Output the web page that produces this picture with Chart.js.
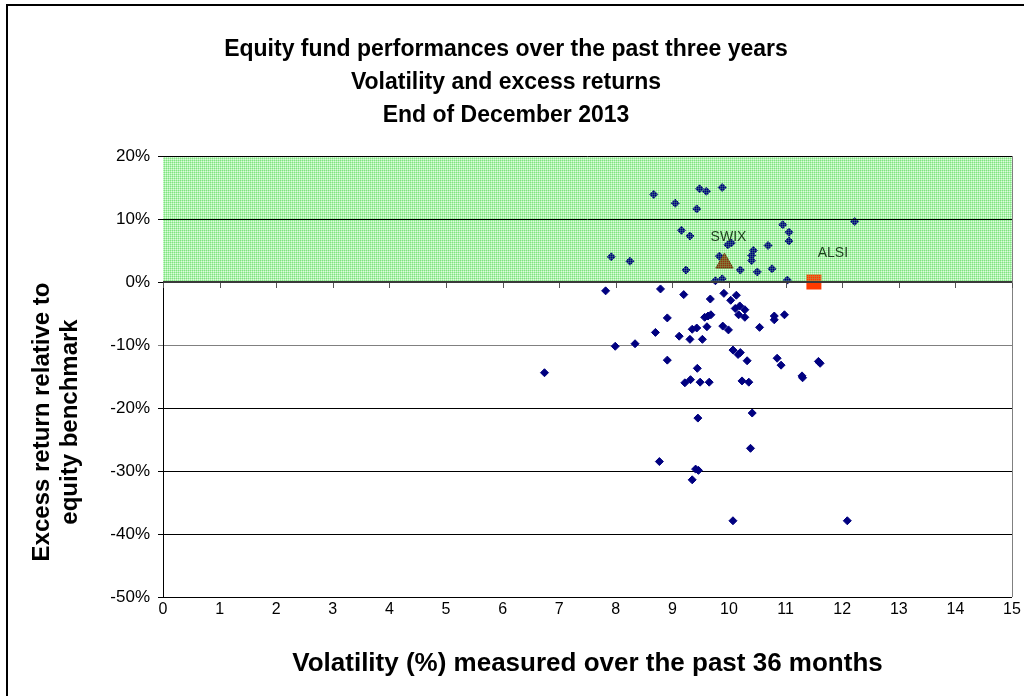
<!DOCTYPE html>
<html><head><meta charset="utf-8">
<script src="https://cdn.jsdelivr.net/npm/chart.js@4.4.1/dist/chart.umd.min.js"></script>
<style>html,body{margin:0;padding:0;background:#fff;overflow:hidden}canvas{display:block}</style>
</head><body>
<canvas id="c" width="1024" height="696"></canvas>
<script>
// ---------------- data ----------------
const titleLines = ['Equity fund performances over the past three years', 'Volatility and excess returns', 'End of December 2013'];
const xAxisTitle = 'Volatility (%) measured over the past 36 months';
const yAxisTitleLines = ['Excess return relative to', 'equity benchmark'];
const xTickLabels = ['0','1','2','3','4','5','6','7','8','9','10','11','12','13','14','15'];
const yTickLabels = ['-50%','-40%','-30%','-20%','-10%','0%','10%','20%'];
const yTickValues = [-50,-40,-30,-20,-10,0,10,20];

const fundVolatility = [
  8.67, 9.48, 9.60, 9.88, 9.05, 9.43, 9.16, 9.31, 10.95, 11.06, 11.06, 12.22, 7.92, 8.25, 9.24,
  9.98, 10.04, 9.83, 10.43, 10.40, 10.40, 10.69, 10.20, 10.50, 10.76, 9.76, 9.88, 11.03,
  7.82, 8.79, 9.20, 9.67, 9.91, 10.13, 10.03, 10.11, 10.19, 10.28, 10.17, 10.28, 10.80, 10.80, 10.98,
  8.91, 9.57, 9.63, 9.68, 8.70, 9.12, 9.35, 9.43, 9.61, 9.89, 9.99, 10.54, 9.31, 9.53,
  7.99, 8.34, 10.07, 10.16, 10.20, 10.32, 10.85, 10.92, 11.58, 11.61, 8.91, 9.44,
  9.32, 9.22, 9.49, 9.65, 10.23, 10.35, 11.29, 11.30, 6.74,
  9.45, 10.41, 10.38, 8.77, 9.41, 9.46, 9.35, 10.07, 12.09
];
const fundExcess = [
  13.9, 14.8, 14.4, 15.0, 12.5, 11.6, 8.2, 7.3, 9.1, 7.9, 6.5, 9.6, 4.0, 3.3, 1.9,
  5.9, 6.2, 4.1, 5.0, 4.2, 3.4, 5.8, 1.9, 1.6, 2.1, 0.2, 0.5, 0.3,
  -1.4, -1.1, -2.0, -2.7, -1.8, -2.1, -2.9, -4.2, -3.8, -4.4, -5.2, -5.6, -5.4, -6.0, -5.2,
  -5.7, -5.6, -5.4, -5.2, -8.0, -8.6, -7.5, -7.3, -7.1, -7.0, -7.6, -7.2, -9.1, -9.1,
  -10.2, -9.8, -10.8, -11.5, -11.2, -12.5, -12.1, -13.2, -12.6, -12.9, -12.4, -13.7,
  -15.5, -16.0, -15.9, -15.9, -15.7, -15.9, -14.9, -15.2, -14.4,
  -21.6, -20.8, -26.4, -28.5, -29.7, -29.9, -31.4, -37.9, -37.9
];
const swixLabel = 'SWIX';
const swixVolatility = [9.92];
const swixExcess = [3.0];
const alsiLabel = 'ALSI';
const alsiVolatility = [11.50];
const alsiExcess = [0.0];
const zoneVolatility = [0, 15];
const zoneExcess = [20, 20];

// ---------------- helpers ----------------
const FONT = "'Liberation Sans', Arial, sans-serif";
const toPoints = (xs, ys) => xs.map((x, i) => ({x: x, y: ys[i]}));

function makePattern(cells) {
  const p = document.createElement('canvas');
  p.width = 2; p.height = 2;
  const g = p.getContext('2d');
  g.clearRect(0, 0, 2, 2);
  cells.forEach(c => { g.fillStyle = c[2]; g.fillRect(c[0], c[1], 1, 1); });
  return document.getElementById('c').getContext('2d').createPattern(p, 'repeat');
}
const basePattern = makePattern([[0,0,'#8fe88f'],[1,0,'#b4f3b4'],[0,1,'#b4f3b4'],[1,1,'#dcfcdc']]);
const topPattern = makePattern([[0,0,'rgba(110,225,110,0.45)'],[1,0,'rgba(150,240,150,0.20)'],[0,1,'rgba(150,240,150,0.20)']]);

const overlay = {
  id: 'overlay',
  beforeDraw(chart) {
    const ctx = chart.ctx;
    ctx.save();
    ctx.fillStyle = '#fff';
    ctx.fillRect(0, 0, chart.width, chart.height);
    ctx.restore();
  },
  afterDatasetsDraw(chart) {
    const ctx = chart.ctx;
    const a = chart.chartArea;
    const xs = chart.scales.x, ys = chart.scales.y;
    ctx.save();
    ctx.strokeStyle = '#000'; ctx.lineWidth = 1;
    [10, 20].forEach(v => {
      const y = Math.round(ys.getPixelForValue(v)) + 0.5;
      ctx.beginPath(); ctx.moveTo(a.left, y); ctx.lineTo(a.right, y); ctx.stroke();
    });
    ctx.strokeStyle = '#808080';
    ctx.beginPath(); ctx.moveTo(Math.round(a.right) + 0.5, a.top); ctx.lineTo(Math.round(a.right) + 0.5, a.bottom); ctx.stroke();
    const y0 = Math.round(ys.getPixelForValue(0));
    ctx.fillStyle = '#3a3a3a';
    ctx.fillRect(a.left, y0 - 1, a.right - a.left, 2);
    ctx.strokeStyle = '#555'; ctx.lineWidth = 1;
    xTickLabels.forEach(t => {
      const x = Math.round(xs.getPixelForValue(Number(t))) + 0.5;
      ctx.beginPath(); ctx.moveTo(x, y0 + 1); ctx.lineTo(x, y0 + 6); ctx.stroke();
    });
    ctx.fillStyle = '#1d3f1d';
    ctx.font = '14px ' + FONT;
    ctx.textAlign = 'center'; ctx.textBaseline = 'middle';
    ctx.fillText(swixLabel, xs.getPixelForValue(swixVolatility[0]) + 4, ys.getPixelForValue(swixExcess[0]) - 26);
    ctx.fillText(alsiLabel, xs.getPixelForValue(alsiVolatility[0]) + 19, ys.getPixelForValue(alsiExcess[0]) - 29);
    ctx.restore();
  },
  afterDraw(chart) {
    const ctx = chart.ctx;
    ctx.save();
    ctx.fillStyle = '#000';
    ctx.fillRect(6, 4, 2, chart.height - 4);
    ctx.fillRect(6, 4, chart.width - 6, 2);
    ctx.font = 'bold 24px ' + FONT;
    ctx.textAlign = 'center'; ctx.textBaseline = 'middle';
    ctx.translate(42, 422);
    ctx.rotate(-Math.PI / 2);
    ctx.fillText(yAxisTitleLines[0], 0, 0);
    ctx.fillText(yAxisTitleLines[1], 0, 28);
    ctx.restore();
  }
};

const zoneDataset = (bg, order) => ({
  type: 'line', label: 'zone',
  data: toPoints(zoneVolatility, zoneExcess),
  fill: 'origin', backgroundColor: bg,
  borderWidth: 0, borderColor: 'rgba(0,0,0,0)',
  pointRadius: 0, pointHoverRadius: 0, order: order
});

const chart = new Chart(document.getElementById('c'), {
  type: 'scatter',
  data: {
    datasets: [
      {
        label: 'Funds',
        data: toPoints(fundVolatility, fundExcess),
        pointStyle: 'rectRot', pointRadius: 4, pointHoverRadius: 4,
        backgroundColor: '#000080', borderColor: '#000080', borderWidth: 1,
        order: 2
      },
      {
        label: swixLabel,
        data: toPoints(swixVolatility, swixExcess),
        pointStyle: 'triangle', pointRadius: 10, pointHoverRadius: 10,
        backgroundColor: '#8a3a10', borderColor: '#6a2a08', borderWidth: 1,
        order: 1
      },
      {
        label: alsiLabel,
        data: toPoints(alsiVolatility, alsiExcess),
        pointStyle: 'rect', pointRadius: 10.6, pointHoverRadius: 10.6,
        backgroundColor: '#ff3a00', borderColor: '#ff3a00', borderWidth: 0,
        order: 1
      },
      zoneDataset(basePattern, 10),
      zoneDataset(topPattern, -1)
    ]
  },
  options: {
    responsive: false,
    animation: false,
    devicePixelRatio: 1,
    events: [],
    layout: { padding: { left: 0, right: 12, top: 0, bottom: 0 } },
    plugins: {
      legend: { display: false },
      tooltip: { enabled: false },
      title: {
        display: true,
        text: titleLines,
        color: '#000',
        font: { family: FONT, size: 23, weight: 'bold', lineHeight: 1.435 },
        padding: { top: 33, bottom: 24 }
      }
    },
    scales: {
      x: {
        type: 'linear', min: 0, max: 15,
        afterFit: s => { s.height = 99; },
        afterBuildTicks: s => { s.ticks = xTickLabels.map(t => ({value: Number(t)})); },
        ticks: {
          color: '#000', padding: 3, maxRotation: 0, autoSkip: false,
          font: { family: FONT, size: 16 },
          callback: (v, i) => xTickLabels[i]
        },
        grid: { display: false, drawTicks: false },
        border: { display: false },
        title: {
          display: true, text: xAxisTitle, color: '#000',
          font: { family: FONT, size: 26, weight: 'bold' },
          padding: { top: 0, bottom: 17 }
        }
      },
      y: {
        type: 'linear', min: -50, max: 20,
        afterFit: s => { s.width = 163; },
        afterBuildTicks: s => { s.ticks = yTickValues.map(v => ({value: v})); },
        ticks: {
          color: '#000', padding: 8,
          font: { family: FONT, size: 17 },
          callback: (v, i) => yTickLabels[i]
        },
        grid: {
          color: c => (c.tick && c.tick.value === -10) ? '#808080' : '#000',
          lineWidth: 1, drawTicks: true, tickLength: 5
        },
        border: { display: true, color: '#000', width: 1 }
      }
    }
  },
  plugins: [overlay]
});
</script>
</body></html>
